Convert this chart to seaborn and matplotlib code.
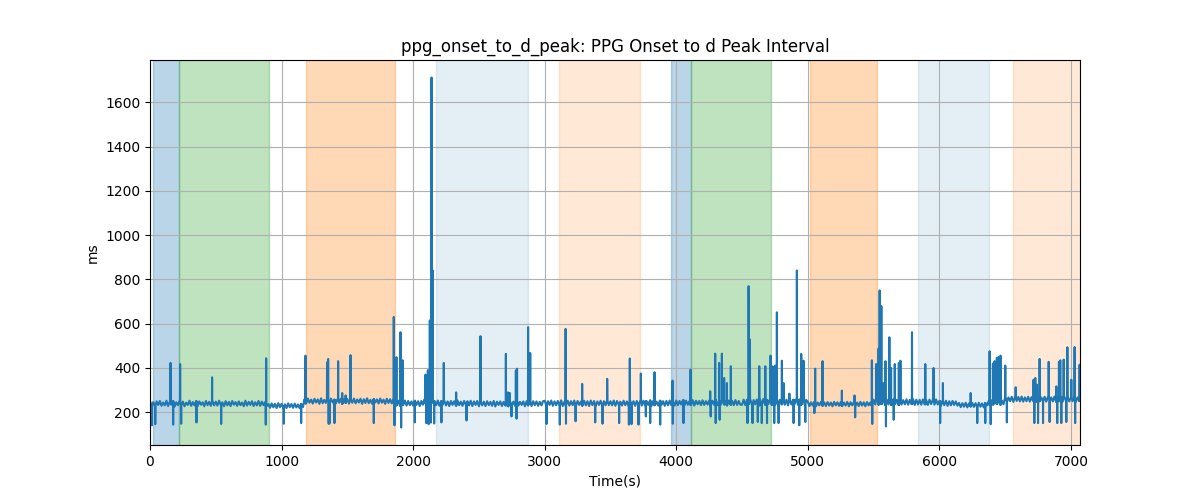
import numpy as np
import pandas as pd
import matplotlib
matplotlib.use("Agg")
import matplotlib.pyplot as plt
import seaborn as sns

# ---------------- data ----------------
title = "ppg_onset_to_d_peak: PPG Onset to d Peak Interval"
x_label = "Time(s)"
y_label = "ms"
x_end = 7069

# baseline samples every 12.5 s starting at 0 s
baseline_step = 12.5
baseline_values = [
    249, 229, 245, 226, 248, 232, 250, 228, 243, 230, 251, 227, 246, 233, 249, 225, 244, 231, 250, 229,
    247, 226, 242, 232, 251, 228, 245, 230, 249, 227, 248, 233, 244, 226, 250, 231, 246, 228, 249, 230,
    247, 229, 251, 232, 244, 226, 249, 230, 246, 227, 250, 233, 245, 228, 248, 231, 243, 226, 251, 229,
    246, 232, 249, 227, 244, 230, 250, 228, 247, 231, 245, 227, 236, 219, 239, 221, 237, 218, 240, 222,
    237, 220, 235, 218, 239, 222, 236, 219, 238, 221, 234, 217, 237, 222, 258, 239, 261, 242, 256, 238,
    260, 243, 257, 237, 262, 240, 255, 241, 259, 238, 261, 244, 256, 239, 258, 242, 260, 237, 257, 241,
    259, 238, 256, 242, 261, 239, 257, 243, 260, 237, 258, 241, 262, 240, 255, 238, 259, 243, 257, 239,
    261, 242, 256, 237, 260, 241, 258, 239, 257, 242, 230, 251, 228, 249, 232, 252, 229, 250, 231, 248,
    229, 251, 232, 249, 227, 250, 233, 258, 241, 262, 239, 257, 243, 250, 231, 252, 228, 249, 233, 251,
    230, 248, 227, 250, 232, 249, 229, 252, 231, 247, 228, 250, 233, 249, 230, 251, 227, 248, 232, 250,
    226, 248, 230, 247, 227, 249, 231, 246, 228, 250, 225, 247, 232, 248, 227, 246, 230, 249, 226, 248,
    231, 247, 228, 250, 229, 246, 232, 248, 226, 249, 230, 247, 227, 249, 231, 248, 228, 246, 230, 249,
    251, 229, 249, 232, 252, 228, 248, 231, 250, 230, 253, 227, 247, 233, 251, 229, 249, 231, 252, 228,
    250, 232, 248, 229, 251, 230, 249, 227, 252, 231, 250, 229, 248, 232, 251, 228, 249, 230, 253, 231,
    249, 230, 252, 228, 250, 233, 247, 229, 251, 231, 248, 227, 252, 232, 249, 228, 250, 231, 248, 229,
    251, 230, 249, 232, 252, 228, 250, 231, 247, 229, 251, 232, 249, 228, 250, 230, 252, 231, 248, 229,
    252, 231, 250, 234, 253, 230, 251, 233, 249, 232, 254, 229, 251, 235, 250, 231, 253, 232, 249, 234,
    252, 230, 251, 233, 254, 231, 250, 232, 253, 234, 249, 230, 252, 233, 251, 231, 254, 232, 250, 233,
    233, 256, 231, 255, 236, 258, 232, 254, 235, 257, 230, 256, 234, 259, 233, 255, 236, 257, 232, 256,
    234, 258, 231, 255, 235, 257, 233, 256, 230, 258, 234, 255, 236, 257, 232, 256, 233, 258, 235, 255,
    246, 227, 244, 229, 245, 226, 243, 230, 246, 228, 244, 227, 245, 229, 243, 226, 246, 230, 244, 228,
    245, 227, 243, 229, 246, 226, 244, 230, 245, 228, 243, 227, 246, 229, 244, 226, 245, 230, 243, 228,
    256, 234, 258, 233, 255, 236, 257, 232, 256, 235, 254, 233, 257, 236, 255, 232, 256, 234, 254, 235,
    257, 233, 255, 236, 258, 232, 256, 234, 255, 233, 257, 235, 254, 232, 256, 236, 255, 233, 257, 234,
    250, 229, 248, 231, 251, 228, 249, 230, 250, 232, 248, 229, 241, 222, 240, 224, 242, 221, 239, 225,
    241, 223, 240, 222, 242, 224, 239, 221, 241, 230, 250, 232, 253, 234, 251, 236, 254, 233, 252, 235,
    268, 247, 266, 249, 269, 246, 267, 250, 268, 248, 270, 247, 266, 249, 269, 247, 267, 250, 268, 246,
    267, 249, 266, 248, 269, 247, 268, 250, 266, 248, 270, 246, 267, 249, 268, 247, 269, 250, 266, 248,
    267, 249, 268, 247, 266, 250,
]

# upward spikes (time s, value ms)
spike_times = [
    156, 229, 472, 883, 1182, 1346, 1354, 1430, 1461, 1487, 1524, 1853, 1873, 1904, 1920,
    2094, 2112, 2127, 2140, 2150, 2233, 2327, 2512, 2705, 2722, 2735, 2781, 2790, 2874, 2890,
    3159, 3285, 3475, 3647, 3731, 3835, 3972, 4109, 4258, 4296, 4326, 4347, 4364, 4385, 4415,
    4550, 4560, 4631, 4677, 4717, 4727, 4740, 4752, 4765, 4803, 4816, 4860, 4917, 4950, 4968,
    5056, 5112, 5259, 5355, 5487, 5520, 5538, 5546, 5559, 5577, 5590, 5620, 5633, 5661, 5692,
    5704, 5792, 5893, 5956, 6027, 6238, 6382, 6407, 6420, 6437, 6450, 6465, 6501, 6580, 6716,
    6729, 6742, 6762, 6831, 6889, 6909, 6919, 6945, 6973, 7003, 7028, 7066,
]
spike_values = [
    422, 417, 357, 443, 455, 425, 440, 430, 286, 275, 457, 630, 448, 561, 434,
    369, 389, 614, 1713, 840, 422, 289, 543, 463, 289, 286, 389, 396, 584, 467,
    576, 327, 350, 442, 374, 380, 342, 392, 294, 464, 422, 464, 354, 331, 407,
    769, 528, 407, 407, 455, 407, 405, 410, 651, 432, 331, 283, 840, 463, 432,
    396, 430, 297, 275, 434, 417, 487, 750, 679, 331, 430, 538, 399, 417, 422,
    432, 561, 417, 399, 331, 286, 475, 419, 430, 445, 449, 455, 410, 312, 346,
    354, 324, 440, 427, 316, 427, 434, 437, 493, 346, 494, 414,
]

# downward dips (time s, value ms)
dip_times = [
    14, 40, 176, 237, 353, 541, 880, 1017, 1149, 1358, 1364, 1402, 1701, 1858, 1909,
    2013, 2100, 2118, 2135, 2160, 2215, 2406, 2748, 2786, 3014, 3115, 3162, 3235, 3384, 3440,
    3566, 3640, 3660, 3713, 3769, 3802, 3878, 3974, 4055, 4262, 4300, 4330, 4542, 4580, 4620,
    4650, 4690, 4745, 4778, 4892, 4935, 4981, 5050, 5360, 5490, 5594, 5653, 6006, 6288, 6349,
    6390, 6513, 6722, 6750, 6788, 6838, 6896, 6927, 6965, 7032,
]
dip_values = [
    140, 145, 143, 147, 153, 146, 143, 147, 150, 147, 148, 150, 150, 140, 130,
    153, 150, 145, 152, 148, 153, 162, 180, 170, 146, 143, 147, 158, 153, 147,
    150, 143, 145, 143, 180, 150, 143, 147, 150, 180, 150, 165, 150, 150, 155,
    150, 150, 150, 150, 150, 140, 155, 195, 176, 146, 135, 165, 150, 150, 150,
    145, 153, 150, 150, 150, 155, 150, 150, 155, 150,
]

# shaded protocol phases: (start, end, colour, alpha)
span_starts = [25, 221, 1184, 2173, 3108, 3959, 4114, 5016, 5837, 6559]
span_ends = [221, 908, 1859, 2870, 3721, 4114, 4717, 5523, 6375, 7069]
span_colors = ["tab:blue", "tab:green", "tab:orange", "tab:blue", "tab:orange",
               "tab:blue", "tab:green", "tab:orange", "tab:blue", "tab:orange"]
span_alphas = [0.3, 0.3, 0.3, 0.12, 0.17, 0.3, 0.3, 0.3, 0.12, 0.17]

# ---------------- assemble ----------------
# Each spike / dip is a single beat: the trace sits at the local baseline
# one second before and after it.
beat = 1.0
base_t = np.arange(len(baseline_values)) * baseline_step
base_v = np.asarray(baseline_values, dtype=float)

ev_t = np.concatenate([spike_times, dip_times]).astype(float)
ev_v = np.concatenate([spike_values, dip_values]).astype(float)
idx = np.clip(np.rint(ev_t / baseline_step).astype(int), 0, len(base_v) - 1)
local = base_v[idx]

all_t = np.concatenate([base_t, ev_t - beat, ev_t, ev_t + beat])
all_v = np.concatenate([base_v, local, ev_v, local])
order = np.argsort(all_t, kind="stable")
df = pd.DataFrame({"t": all_t[order], "v": all_v[order]})

# ---------------- plot ----------------
fig, ax = plt.subplots(figsize=(12, 5), dpi=100)

for s, e, c, a in zip(span_starts, span_ends, span_colors, span_alphas):
    ax.axvspan(s, e, color=c, alpha=a)

sns.lineplot(data=df, x="t", y="v", ax=ax, color="tab:blue", linewidth=1.5,
             estimator=None, sort=False)

ax.set_xlim(0, x_end)
ax.set_title(title)
ax.set_xlabel(x_label)
ax.set_ylabel(y_label)
ax.grid(True)

fig.savefig("out.png", dpi=100)
